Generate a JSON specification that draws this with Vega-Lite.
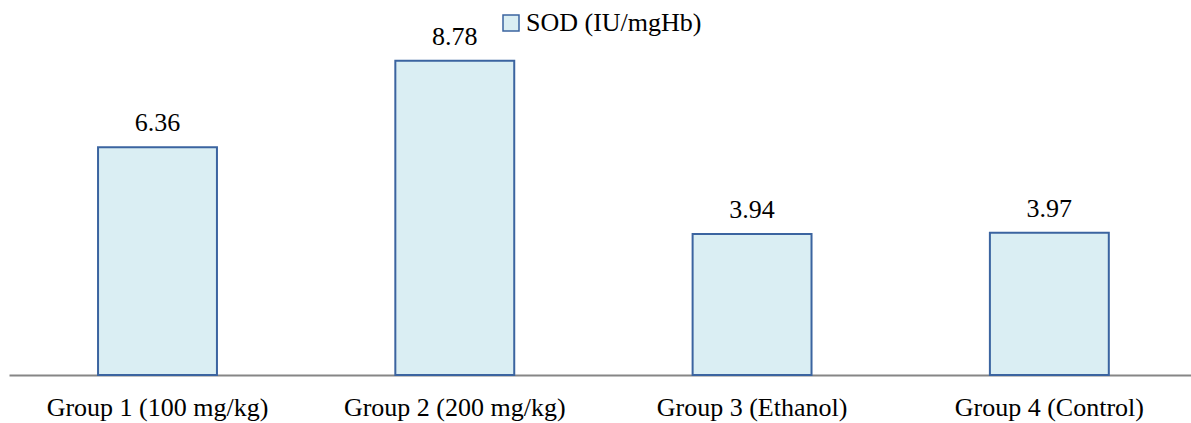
{
  "$schema": "https://vega.github.io/schema/vega-lite/v6.json",
  "width": 1182,
  "height": 358,
  "autosize": {"type": "none"},
  "padding": {"left": 9, "top": 17, "right": 0, "bottom": 48},
  "background": "white",
  "config": {"view": {"stroke": null}, "font": "Liberation Serif"},
  "data": {"values": [
    {"group": "Group 1 (100 mg/kg)", "value": 6.36, "series": "SOD (IU/mgHb)"},
    {"group": "Group 2 (200 mg/kg)", "value": 8.78, "series": "SOD (IU/mgHb)"},
    {"group": "Group 3 (Ethanol)", "value": 3.94, "series": "SOD (IU/mgHb)"},
    {"group": "Group 4 (Control)", "value": 3.97, "series": "SOD (IU/mgHb)"}
  ]},
  "encoding": {
    "x": {"field": "group", "type": "nominal", "sort": null,
      "scale": {"paddingInner": 0.6, "paddingOuter": 0.288, "align": 0.52},
      "axis": {"title": null, "labelAngle": 0, "ticks": false, "domainColor": "#868686", "domainWidth": 2,
        "labelFont": "Liberation Serif", "labelFontSize": 26, "labelColor": "#000000", "labelPadding": 19, "labelLimit": 400}},
    "y": {"field": "value", "type": "quantitative", "scale": {"domain": [0, 10]}, "axis": null}
  },
  "layer": [
    {"mark": {"type": "bar", "stroke": "#3B64A0", "strokeWidth": 2},
     "encoding": {"color": {"field": "series", "type": "nominal", "scale": {"range": ["#DAEEF3"]},
       "legend": {"title": null, "orient": "none", "legendX": 489, "legendY": -7, "symbolType": "square",
         "symbolSize": 256, "symbolStrokeColor": "#3B64A0", "symbolStrokeWidth": 1.5, "symbolOpacity": 1,
         "labelFont": "Liberation Serif", "labelFontSize": 26, "labelColor": "#000000", "labelOffset": 2, "labelLimit": 400}}}},
    {"mark": {"type": "text", "baseline": "alphabetic", "dy": -16, "font": "Liberation Serif", "fontSize": 26, "color": "#000000"},
     "encoding": {"text": {"field": "value", "type": "quantitative", "format": ".2f"}}}
  ]
}
